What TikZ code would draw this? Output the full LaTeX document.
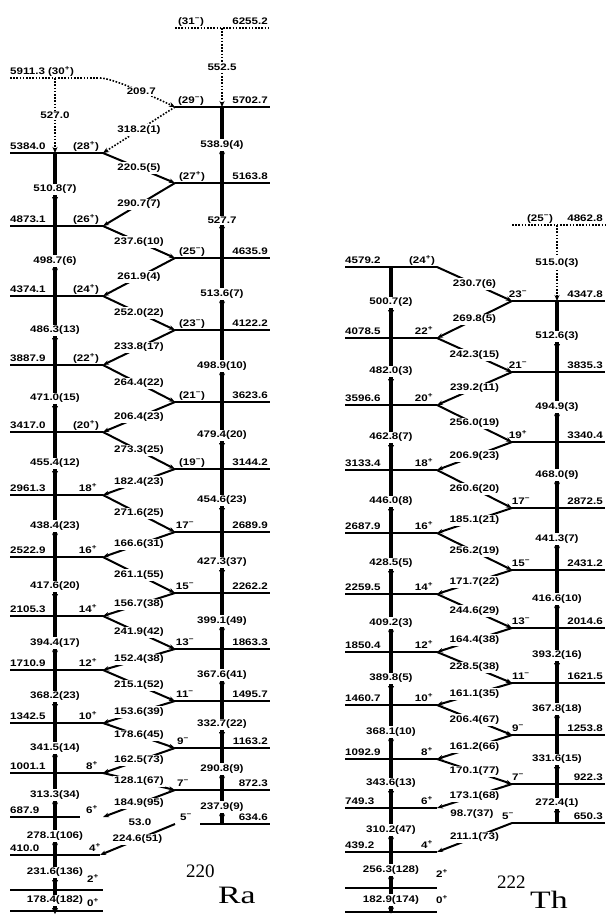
\documentclass[tikz,border=0pt]{standalone}
\usepackage{fontspec}
\setmainfont{Liberation Sans}
\newfontfamily\serifbig{Liberation Serif}
\usetikzlibrary{arrows.meta}
\newcommand\lbfont{\fontsize{9.5bp}{11bp}\selectfont\bfseries}
\newcommand\lt[1]{\scalebox{1.22}[1]{#1}}
\newcommand\spp{\textsuperscript{+}}
\newcommand\spm{\textsuperscript{−}}
\tikzset{
  lab/.style={fill=white, inner sep=1.2bp, font=\lbfont},
  lvtext/.style={inner sep=0pt, font=\lbfont},
  level/.style={line width=2bp},
  dlevel/.style={line width=1.6bp, dash pattern=on 1.6bp off 1.6bp},
  vline/.style={line width=3.8bp},
  dvline/.style={line width=1.6bp, dash pattern=on 1.6bp off 1.6bp, -{Stealth[length=6bp,width=5bp]}},
  dline/.style={line width=2bp, -{Stealth[length=6bp,width=4.5bp]}},
  ddline/.style={line width=1.6bp, dash pattern=on 1.6bp off 1.6bp, -{Stealth[length=6bp,width=5bp]}},
}
% left-band level: name, y, x2, energy, spin, spin x, style
\newcommand\LL[7]{%
  \coordinate (#1w) at (\bxa,#2);
  \coordinate (#1e) at (#3,#2);
  \coordinate (#1v) at (\bxv,#2);
  \draw[#7] (#1w) -- (#1e);
  \node[lvtext,anchor=base west] (#1E) at (\bxa,#2-3.5) {\lt{#4}};
  \node[lvtext,anchor=base] (#1J) at (#6,#2-3.5) {\lt{#5}};}
% right-band level: name, y, x1, energy, spin, spin x, style
\newcommand\RL[7]{%
  \coordinate (#1w) at (#3,#2);
  \coordinate (#1e) at (\bxb,#2);
  \coordinate (#1v) at (\bxv,#2);
  \draw[#7] (#1w) -- (#1e);
  \node[lvtext,anchor=base east] (#1E) at (\bxb-2,#2-3.5) {\lt{#4}};
  \node[lvtext,anchor=base] (#1J) at (#6,#2-3.5) {\lt{#5}};}
\newcommand\VT[3]{%
  \draw[vline] (#1v) -- (#2v) node[lab,midway] (#1#2) {\lt{#3}};
  \fill ([xshift=-3bp]#1#2.south) -- ([xshift=3bp]#1#2.south) -- ([yshift=-6bp]#1#2.south) -- cycle;}
\newcommand\DVT[3]{\draw[dvline] (#1v) -- (#2v) node[lab,midway] (#1#2) {\lt{#3}};}
\newcommand\DT[3]{\draw[dline] (#1) -- (#2) node[lab,midway] (#1#2) {\lt{#3}};}
\begin{document}
\begin{tikzpicture}[x=1bp,y=-1bp]
\useasboundingbox (0,0) rectangle (606,915);
% ================= 220Ra =================
\def\bxa{10}\def\bxv{55}
\LL{RaA30}{78}{100}{5911.3}{(30\spp)}{61}{dlevel}
\LL{RaA28}{153}{103}{5384.0}{(28\spp)}{86}{level}
\LL{RaA26}{226}{103}{4873.1}{(26\spp)}{86}{level}
\LL{RaA24}{296}{103}{4374.1}{(24\spp)}{86}{level}
\LL{RaA22}{365}{103}{3887.9}{(22\spp)}{86}{level}
\LL{RaA20}{432}{103}{3417.0}{(20\spp)}{86}{level}
\LL{RaA18}{495}{103}{2961.3}{18\spp}{88}{level}
\LL{RaA16}{557}{103}{2522.9}{16\spp}{88}{level}
\LL{RaA14}{616}{103}{2105.3}{14\spp}{88}{level}
\LL{RaA12}{670}{103}{1710.9}{12\spp}{88}{level}
\LL{RaA10}{723}{103}{1342.5}{10\spp}{88}{level}
\LL{RaA8}{773}{103}{1001.1}{8\spp}{92}{level}
\LL{RaA6}{817}{80}{687.9}{6\spp}{92}{level}
\LL{RaA4}{855}{100}{410.0}{4\spp}{95}{level}
\coordinate (RaA2w) at (10,890); \coordinate (RaA2e) at (103,890); \coordinate (RaA2v) at (55,890);
\draw[level] (RaA2w) -- (RaA2e);
\node[lvtext,anchor=base] (RaA2J) at (93,882.5) {\lt{2\spp}};
\coordinate (RaA0w) at (10,911); \coordinate (RaA0e) at (103,911); \coordinate (RaA0v) at (55,911);
\draw[level] (RaA0w) -- (RaA0e);
\node[lvtext,anchor=base] (RaA0J) at (93,906.5) {\lt{0\spp}};
\coordinate (RaA6x) at (103,817);
\def\bxb{270}\def\bxv{222}
\RL{RaB31}{28}{175}{6255.2}{(31\spm)}{191}{dlevel}
\RL{RaB29}{107}{175}{5702.7}{(29\spm)}{191}{level}
\RL{RaB27}{183}{175}{5163.8}{(27\spp)}{192}{level}
\RL{RaB25}{258}{175}{4635.9}{(25\spm)}{192}{level}
\RL{RaB23}{330}{175}{4122.2}{(23\spm)}{192}{level}
\RL{RaB21}{402}{175}{3623.6}{(21\spm)}{192}{level}
\RL{RaB19}{469}{175}{3144.2}{(19\spm)}{192}{level}
\RL{RaB17}{532}{175}{2689.9}{17\spm}{185}{level}
\RL{RaB15}{593}{175}{2262.2}{15\spm}{185}{level}
\RL{RaB13}{649}{175}{1863.3}{13\spm}{185}{level}
\RL{RaB11}{701}{175}{1495.7}{11\spm}{185}{level}
\RL{RaB9}{748}{175}{1163.2}{9\spm}{183}{level}
\RL{RaB7}{790}{175}{872.3}{7\spm}{183}{level}
\RL{RaB5}{824}{200}{634.6}{5\spm}{186}{level}
\coordinate (RaB5x) at (175,824);
% vertical transitions, left band
\DVT{RaA30}{RaA28}{527.0}
\VT{RaA28}{RaA26}{510.8(7)}
\VT{RaA26}{RaA24}{498.7(6)}
\VT{RaA24}{RaA22}{486.3(13)}
\VT{RaA22}{RaA20}{471.0(15)}
\VT{RaA20}{RaA18}{455.4(12)}
\VT{RaA18}{RaA16}{438.4(23)}
\VT{RaA16}{RaA14}{417.6(20)}
\VT{RaA14}{RaA12}{394.4(17)}
\VT{RaA12}{RaA10}{368.2(23)}
\VT{RaA10}{RaA8}{341.5(14)}
\VT{RaA8}{RaA6}{313.3(34)}
\VT{RaA6}{RaA4}{278.1(106)}
\VT{RaA4}{RaA2}{231.6(136)}
\VT{RaA2}{RaA0}{178.4(182)}
% vertical transitions, right band
\DVT{RaB31}{RaB29}{552.5}
\VT{RaB29}{RaB27}{538.9(4)}
\VT{RaB27}{RaB25}{527.7}
\VT{RaB25}{RaB23}{513.6(7)}
\VT{RaB23}{RaB21}{498.9(10)}
\VT{RaB21}{RaB19}{479.4(20)}
\VT{RaB19}{RaB17}{454.6(23)}
\VT{RaB17}{RaB15}{427.3(37)}
\VT{RaB15}{RaB13}{399.1(49)}
\VT{RaB13}{RaB11}{367.6(41)}
\VT{RaB11}{RaB9}{332.7(22)}
\VT{RaB9}{RaB7}{290.8(9)}
\VT{RaB7}{RaB5}{237.9(9)}
% crossing transitions
\draw[ddline] (RaA30e) .. controls (112,78) and (150,95) .. (RaB29w) node[lab,pos=0.6] (Ra2097) {\lt{209.7}};
\draw[ddline] (RaB29w) -- (RaA28e) node[lab,midway] (Ra3182) {\lt{318.2(1)}};
\DT{RaA28e}{RaB27w}{220.5(5)}
\DT{RaB27w}{RaA26e}{290.7(7)}
\DT{RaA26e}{RaB25w}{237.6(10)}
\DT{RaB25w}{RaA24e}{261.9(4)}
\DT{RaA24e}{RaB23w}{252.0(22)}
\DT{RaB23w}{RaA22e}{233.8(17)}
\DT{RaA22e}{RaB21w}{264.4(22)}
\DT{RaB21w}{RaA20e}{206.4(23)}
\DT{RaA20e}{RaB19w}{273.3(25)}
\DT{RaB19w}{RaA18e}{182.4(23)}
\DT{RaA18e}{RaB17w}{271.6(25)}
\DT{RaB17w}{RaA16e}{166.6(31)}
\DT{RaA16e}{RaB15w}{261.1(55)}
\DT{RaB15w}{RaA14e}{156.7(38)}
\DT{RaA14e}{RaB13w}{241.9(42)}
\DT{RaB13w}{RaA12e}{152.4(38)}
\DT{RaA12e}{RaB11w}{215.1(52)}
\DT{RaB11w}{RaA10e}{153.6(39)}
\DT{RaA10e}{RaB9w}{178.6(45)}
\DT{RaB9w}{RaA8e}{162.5(73)}
\DT{RaA8e}{RaB7w}{128.1(67)}
\DT{RaB7w}{RaA6x}{184.9(95)}
\DT{RaB5x}{RaA4e}{224.6(51)}
\node[lvtext] (Ra53) at (140,822) {\lt{53.0}};
\node[anchor=base west,inner sep=0pt] (RaM) at (186,877) {\serifbig\fontsize{19bp}{19bp}\selectfont 220};
\node[anchor=base west,inner sep=0pt] (RaN) at (218,903) {\serifbig\fontsize{25bp}{25bp}\selectfont\scalebox{1.35}[1]{Ra}};
% ================= 222Th =================
\def\bxa{345}\def\bxv{391}
\LL{ThA24}{267}{437}{4579.2}{(24\spp)}{422}{level}
\LL{ThA22}{338}{437}{4078.5}{22\spp}{424}{level}
\LL{ThA20}{405}{437}{3596.6}{20\spp}{424}{level}
\LL{ThA18}{470}{437}{3133.4}{18\spp}{424}{level}
\LL{ThA16}{533}{437}{2687.9}{16\spp}{424}{level}
\LL{ThA14}{594}{437}{2259.5}{14\spp}{424}{level}
\LL{ThA12}{652}{437}{1850.4}{12\spp}{424}{level}
\LL{ThA10}{705}{437}{1460.7}{10\spp}{424}{level}
\LL{ThA8}{759}{437}{1092.9}{8\spp}{427}{level}
\LL{ThA6}{808}{437}{749.3}{6\spp}{427}{level}
\LL{ThA4}{852}{437}{439.2}{4\spp}{427}{level}
\coordinate (ThA2w) at (345,888); \coordinate (ThA2e) at (437,888); \coordinate (ThA2v) at (391,888);
\draw[level] (ThA2w) -- (ThA2e);
\node[lvtext,anchor=base] (ThA2J) at (442,877.5) {\lt{2\spp}};
\coordinate (ThA0w) at (345,912); \coordinate (ThA0e) at (437,912); \coordinate (ThA0v) at (391,912);
\draw[level] (ThA0w) -- (ThA0e);
\node[lvtext,anchor=base] (ThA0J) at (442,903.5) {\lt{0\spp}};
\def\bxb{605}\def\bxv{557}
\RL{ThB25}{225}{512}{4862.8}{(25\spm)}{540}{dlevel}
\RL{ThB23}{301}{512}{4347.8}{23\spm}{518}{level}
\RL{ThB21}{372}{512}{3835.3}{21\spm}{518}{level}
\RL{ThB19}{442}{512}{3340.4}{19\spp}{518}{level}
\RL{ThB17}{508}{512}{2872.5}{17\spm}{521}{level}
\RL{ThB15}{570}{512}{2431.2}{15\spm}{521}{level}
\RL{ThB13}{628}{512}{2014.6}{13\spm}{521}{level}
\RL{ThB11}{683}{512}{1621.5}{11\spm}{521}{level}
\RL{ThB9}{735}{512}{1253.8}{9\spm}{518}{level}
\RL{ThB7}{784}{512}{922.3}{7\spm}{518}{level}
\RL{ThB5}{823}{512}{650.3}{5\spm}{508}{level}
% vertical transitions, left band
\VT{ThA24}{ThA22}{500.7(2)}
\VT{ThA22}{ThA20}{482.0(3)}
\VT{ThA20}{ThA18}{462.8(7)}
\VT{ThA18}{ThA16}{446.0(8)}
\VT{ThA16}{ThA14}{428.5(5)}
\VT{ThA14}{ThA12}{409.2(3)}
\VT{ThA12}{ThA10}{389.8(5)}
\VT{ThA10}{ThA8}{368.1(10)}
\VT{ThA8}{ThA6}{343.6(13)}
\VT{ThA6}{ThA4}{310.2(47)}
\VT{ThA4}{ThA2}{256.3(128)}
\VT{ThA2}{ThA0}{182.9(174)}
% vertical transitions, right band
\DVT{ThB25}{ThB23}{515.0(3)}
\VT{ThB23}{ThB21}{512.6(3)}
\VT{ThB21}{ThB19}{494.9(3)}
\VT{ThB19}{ThB17}{468.0(9)}
\VT{ThB17}{ThB15}{441.3(7)}
\VT{ThB15}{ThB13}{416.6(10)}
\VT{ThB13}{ThB11}{393.2(16)}
\VT{ThB11}{ThB9}{367.8(18)}
\VT{ThB9}{ThB7}{331.6(15)}
\VT{ThB7}{ThB5}{272.4(1)}
% crossing transitions
\DT{ThA24e}{ThB23w}{230.7(6)}
\DT{ThB23w}{ThA22e}{269.8(5)}
\DT{ThA22e}{ThB21w}{242.3(15)}
\DT{ThB21w}{ThA20e}{239.2(11)}
\DT{ThA20e}{ThB19w}{256.0(19)}
\DT{ThB19w}{ThA18e}{206.9(23)}
\DT{ThA18e}{ThB17w}{260.6(20)}
\DT{ThB17w}{ThA16e}{185.1(21)}
\DT{ThA16e}{ThB15w}{256.2(19)}
\DT{ThB15w}{ThA14e}{171.7(22)}
\DT{ThA14e}{ThB13w}{244.6(29)}
\DT{ThB13w}{ThA12e}{164.4(38)}
\DT{ThA12e}{ThB11w}{228.5(38)}
\DT{ThB11w}{ThA10e}{161.1(35)}
\DT{ThA10e}{ThB9w}{206.4(67)}
\DT{ThB9w}{ThA8e}{161.2(66)}
\DT{ThA8e}{ThB7w}{170.1(77)}
\DT{ThB7w}{ThA6e}{173.1(68)}
\DT{ThB5w}{ThA4e}{211.1(73)}
\node[lvtext] (Th987) at (472,814) {\lt{98.7(37)}};
\node[anchor=base west,inner sep=0pt] (ThM) at (497,888) {\serifbig\fontsize{19bp}{19bp}\selectfont 222};
\node[anchor=base west,inner sep=0pt] (ThN) at (530,908) {\serifbig\fontsize{25bp}{25bp}\selectfont\scalebox{1.35}[1]{Th}};
\end{tikzpicture}
\end{document}
